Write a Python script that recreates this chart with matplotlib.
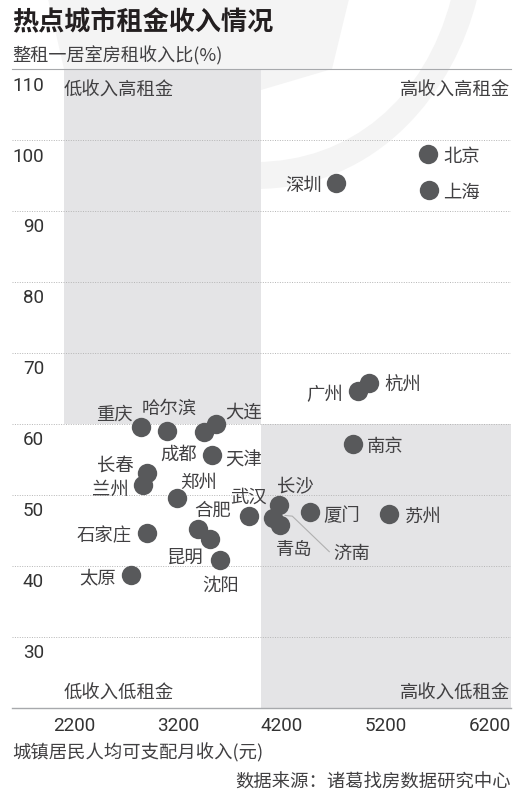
"""Scatter of rent against income for hot cities."""

import matplotlib

matplotlib.use("Agg")

import matplotlib.pyplot as plt
from matplotlib.patches import PathPatch, Polygon, Rectangle
from matplotlib.path import Path
from matplotlib.transforms import Affine2D

plt.rcParams["font.family"] = ["Noto Sans CJK SC", "DejaVu Sans"]

W, H = 531, 804
TEXT = "#414042"
DOT = "#58595b"
SHADE = "#e4e4e6"
MARK = "#f4f4f4"

cities = ["北京", "上海", "深圳", "杭州", "广州", "南京", "重庆", "哈尔滨", "大连",
          "成都", "天津", "长春", "兰州", "郑州", "武汉", "合肥", "昆明", "沈阳",
          "石家庄", "太原", "长沙", "济南", "青岛", "厦门", "苏州"]
income = [5604, 5614, 4725, 5039, 4929, 4888, 2848, 3098, 3567,
          3449, 3525, 2900, 2861, 3194, 3885, 3394, 3512, 3608,
          2903, 2746, 4170, 4118, 4183, 4472, 5232]
rent_ratio = [97.9, 92.9, 93.9, 65.8, 64.6, 57.1, 59.6, 59.05, 60.0,
              58.8, 55.6, 53.1, 51.4, 49.6, 47.0, 45.2, 43.8, 40.8,
              44.6, 38.7, 48.5, 46.8, 45.8, 47.6, 47.3]
x_ticks = [2200, 3200, 4200, 5200, 6200]
y_ticks = [30, 40, 50, 60, 70, 80, 90, 100, 110]
leader_x = [4231, 4301, 4657]
leader_y = [47.1, 47.0, 42.0]

# label centre relative to the dot, in pixels
label_pos = {
    "北京": (34, 0), "上海": (33, 0), "深圳": (-33, 0), "杭州": (34, 0),
    "广州": (-33, -1), "南京": (32, 0), "重庆": (-27, 15), "哈尔滨": (2, 25),
    "大连": (28, 14), "成都": (-25, -19), "天津": (32, -3), "长春": (-31, 10),
    "兰州": (-32, -2), "郑州": (21, 18), "武汉": (0, 21), "合肥": (15, 21),
    "昆明": (-25, -16), "沈阳": (0, -23), "石家庄": (-43, 0), "太原": (-33, 0),
    "长沙": (17, 21), "济南": (78, -33), "青岛": (14, -22), "厦门": (32, -1),
    "苏州": (34, 0),
}


def px_x(x):
    return x / W


def px_y(y):
    return 1 - y / H


fig = plt.figure(figsize=(W / 100, H / 100), dpi=100)

# faint watermark behind everything, drawn in top-left pixel coordinates
to_fig = Affine2D().scale(1 / W, -1 / H).translate(0, 1) + fig.transFigure
fig.add_artist(Polygon([(48, 0), (349, 0), (332, 70), (261, 91), (261, 70), (64, 70)],
                       transform=to_fig, color=MARK, lw=0, zorder=-5))
arc = Path(
    [(451, 0), (425, 100), (350, 163), (255, 163),
     (255, 190), (380, 190), (455, 90), (477, 0), (451, 0)],
    [Path.MOVETO, Path.CURVE4, Path.CURVE4, Path.CURVE4,
     Path.LINETO, Path.CURVE4, Path.CURVE4, Path.CURVE4, Path.CLOSEPOLY],
)
fig.add_artist(PathPatch(arc, transform=to_fig, color=MARK, lw=0, zorder=-5))

ax = fig.add_axes([px_x(12), px_y(709), (511 - 12) / W, (709 - 69.5) / H])
ax.patch.set_alpha(0)
ax.set_xlim(1603, 6406)
ax.set_ylim(20, 110)

ax.add_patch(Rectangle((2104, 60), 1896, 50, color=SHADE, lw=0, zorder=0))
ax.add_patch(Rectangle((4000, 20), 2406, 40, color=SHADE, lw=0, zorder=0))

ax.set_yticks(y_ticks[:-1])
ax.set_xticks(x_ticks)
ax.grid(axis="x", visible=False)
ax.grid(axis="y", color="#b5b5b5", lw=0.7, ls=(0, (1, 1.5)), zorder=1)
ax.tick_params(length=0, labelleft=False, labelbottom=False)
for side in ["left", "right"]:
    ax.spines[side].set_visible(False)
for side in ["top", "bottom"]:
    ax.spines[side].set_color("#a7a9ac")
ax.spines["top"].set_linewidth(0.8)
ax.spines["bottom"].set_linewidth(1.0)

ax.plot(leader_x, leader_y, color="#b0b0b0", lw=0.8, zorder=2)
ax.scatter(income, rent_ratio, s=195, color=DOT, lw=0, zorder=3)

for city, x, y in zip(cities, income, rent_ratio):
    dx, dy = label_pos[city]
    ax.annotate(city, (x, y), xytext=(dx, dy - 2), textcoords="offset pixels",
                ha="center", va="center", fontsize=13.2, color=TEXT, zorder=4)

for v in y_ticks:
    y_px = 86 if v == 110 else 156.5 + (100 - v) * 7.1
    fig.text(px_x(44), px_y(y_px), str(v), ha="right", va="center", fontsize=13.6,
             color="#333333", family="Roboto")
for v in x_ticks:
    ax.annotate(str(v), (v, 20), xytext=(0, -17.5), textcoords="offset pixels",
                ha="center", va="center", fontsize=13.6, color="#333333", family="Roboto")

fig.text(px_x(64), px_y(91), "低收入高租金", ha="left", va="center", fontsize=13.2, color=TEXT)
fig.text(px_x(510.5), px_y(91), "高收入高租金", ha="right", va="center", fontsize=13.2, color=TEXT)
fig.text(px_x(64), px_y(694), "低收入低租金", ha="left", va="center", fontsize=13.2, color=TEXT)
fig.text(px_x(510.5), px_y(694), "高收入低租金", ha="right", va="center", fontsize=13.2, color=TEXT)

fig.text(px_x(12), px_y(23), "热点城市租金收入情况", ha="left", va="center",
         fontsize=18.8, fontweight="bold", color="#231f20")
fig.text(px_x(12), px_y(56), "整租一居室房租收入比(%)", ha="left", va="center", fontsize=13.1, color=TEXT)
fig.text(px_x(12), px_y(753), "城镇居民人均可支配月收入(元)", ha="left", va="center", fontsize=13.2, color=TEXT)
fig.text(px_x(510.5), px_y(783), "数据来源：诸葛找房数据研究中心", ha="right", va="center", fontsize=13.2, color=TEXT)

fig.savefig("out.png", dpi=100)
